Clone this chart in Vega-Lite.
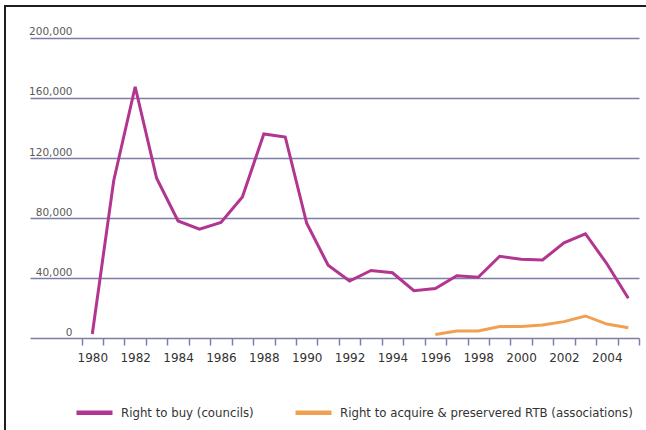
{
  "$schema": "https://vega.github.io/schema/vega-lite/v6.json",
  "width": 651,
  "height": 434,
  "autosize": {"type": "none"},
  "padding": {"left": 5, "top": 6, "right": -10, "bottom": -10},
  "background": "white",
  "config": {
    "font": "DejaVu Sans",
    "view": {"stroke": "#1e1e1e", "strokeWidth": 2}
  },
  "datasets": {
    "sales": [
      {"year": 1980, "series": "Right to buy (councils)", "sales": 2700},
      {"year": 1981, "series": "Right to buy (councils)", "sales": 105000},
      {"year": 1982, "series": "Right to buy (councils)", "sales": 167500},
      {"year": 1983, "series": "Right to buy (councils)", "sales": 106500},
      {"year": 1984, "series": "Right to buy (councils)", "sales": 78000},
      {"year": 1985, "series": "Right to buy (councils)", "sales": 72500},
      {"year": 1986, "series": "Right to buy (councils)", "sales": 77000},
      {"year": 1987, "series": "Right to buy (councils)", "sales": 94000},
      {"year": 1988, "series": "Right to buy (councils)", "sales": 136000},
      {"year": 1989, "series": "Right to buy (councils)", "sales": 134000},
      {"year": 1990, "series": "Right to buy (councils)", "sales": 76500},
      {"year": 1991, "series": "Right to buy (councils)", "sales": 48500},
      {"year": 1992, "series": "Right to buy (councils)", "sales": 38000},
      {"year": 1993, "series": "Right to buy (councils)", "sales": 45000},
      {"year": 1994, "series": "Right to buy (councils)", "sales": 43500},
      {"year": 1995, "series": "Right to buy (councils)", "sales": 31500},
      {"year": 1996, "series": "Right to buy (councils)", "sales": 33000},
      {"year": 1997, "series": "Right to buy (councils)", "sales": 41500},
      {"year": 1998, "series": "Right to buy (councils)", "sales": 40500},
      {"year": 1999, "series": "Right to buy (councils)", "sales": 54500},
      {"year": 2000, "series": "Right to buy (councils)", "sales": 52500},
      {"year": 2001, "series": "Right to buy (councils)", "sales": 52000},
      {"year": 2002, "series": "Right to buy (councils)", "sales": 63500},
      {"year": 2003, "series": "Right to buy (councils)", "sales": 69500},
      {"year": 2004, "series": "Right to buy (councils)", "sales": 49500},
      {"year": 2005, "series": "Right to buy (councils)", "sales": 26500},
      {"year": 1996, "series": "Right to acquire & preservered RTB (associations)", "sales": 2400},
      {"year": 1997, "series": "Right to acquire & preservered RTB (associations)", "sales": 4700},
      {"year": 1998, "series": "Right to acquire & preservered RTB (associations)", "sales": 4700},
      {"year": 1999, "series": "Right to acquire & preservered RTB (associations)", "sales": 7600},
      {"year": 2000, "series": "Right to acquire & preservered RTB (associations)", "sales": 7600},
      {"year": 2001, "series": "Right to acquire & preservered RTB (associations)", "sales": 8700},
      {"year": 2002, "series": "Right to acquire & preservered RTB (associations)", "sales": 10900},
      {"year": 2003, "series": "Right to acquire & preservered RTB (associations)", "sales": 14700},
      {"year": 2004, "series": "Right to acquire & preservered RTB (associations)", "sales": 9300},
      {"year": 2005, "series": "Right to acquire & preservered RTB (associations)", "sales": 6900}
    ]
  },
  "data": {"name": "sales"},
  "encoding": {
    "y": {
      "field": "sales",
      "type": "quantitative",
      "scale": {"domain": [-68000, 221333.33], "nice": false, "zero": false},
      "axis": {
        "orient": "left",
        "offset": -634,
        "title": null,
        "domain": false,
        "grid": false,
        "values": [0, 40000, 80000, 120000, 160000, 200000],
        "format": ",d",
        "tickSize": 609,
        "tickColor": "#7c7ea8",
        "tickWidth": 1.5,
        "labelPadding": -42,
        "labelAlign": "right",
        "labelBaseline": "alphabetic",
        "labelOffset": -3,
        "labelFontSize": 10.5,
        "labelColor": "#5a5a5a"
      }
    },
    "color": {
      "field": "series",
      "type": "nominal",
      "scale": {
        "domain": ["Right to buy (councils)", "Right to acquire & preservered RTB (associations)"],
        "range": ["#b2358f", "#f0a052"]
      },
      "legend": {
        "title": null,
        "orient": "none",
        "direction": "horizontal",
        "legendX": 69,
        "legendY": 386,
        "padding": 0,
        "symbolType": "stroke",
        "symbolSize": 1296,
        "symbolStrokeWidth": 4.5,
        "labelFontSize": 11.75,
        "labelColor": "#333333",
        "labelOffset": 6,
        "columnPadding": 32,
        "labelLimit": 400
      }
    }
  },
  "layer": [
    {
      "transform": [{"filter": "datum.series == 'Right to buy (councils)'"}],
      "mark": {"type": "line", "strokeWidth": 3},
      "encoding": {
        "x": {
          "field": "year",
          "type": "quantitative",
          "scale": {"domain": [1975.928, 2006.292], "nice": false, "zero": false},
          "axis": {
            "orient": "bottom",
            "offset": -102,
            "title": null,
            "domain": false,
            "grid": false,
            "labels": false,
            "values": [1979.5, 1980.5, 1981.5, 1982.5, 1983.5, 1984.5, 1985.5, 1986.5, 1987.5, 1988.5, 1989.5, 1990.5, 1991.5, 1992.5, 1993.5, 1994.5, 1995.5, 1996.5, 1997.5, 1998.5, 1999.5, 2000.5, 2001.5, 2002.5, 2003.5, 2004.5, 2005.5],
            "tickSize": 7,
            "tickColor": "#7c7ea8",
            "tickWidth": 1.5
          }
        }
      }
    },
    {
      "transform": [{"filter": "datum.series != 'Right to buy (councils)'"}],
      "mark": {"type": "line", "strokeWidth": 3},
      "encoding": {
        "x": {
          "field": "year",
          "type": "quantitative",
          "axis": {
            "orient": "bottom",
            "offset": -102,
            "title": null,
            "domain": false,
            "grid": false,
            "ticks": false,
            "values": [1980, 1982, 1984, 1986, 1988, 1990, 1992, 1994, 1996, 1998, 2000, 2002, 2004],
            "format": "d",
            "labelFlush": false,
            "labelPadding": 14,
            "labelFontSize": 12,
            "labelColor": "#333333"
          }
        }
      }
    }
  ],
  "resolve": {"axis": {"x": "independent"}}
}
